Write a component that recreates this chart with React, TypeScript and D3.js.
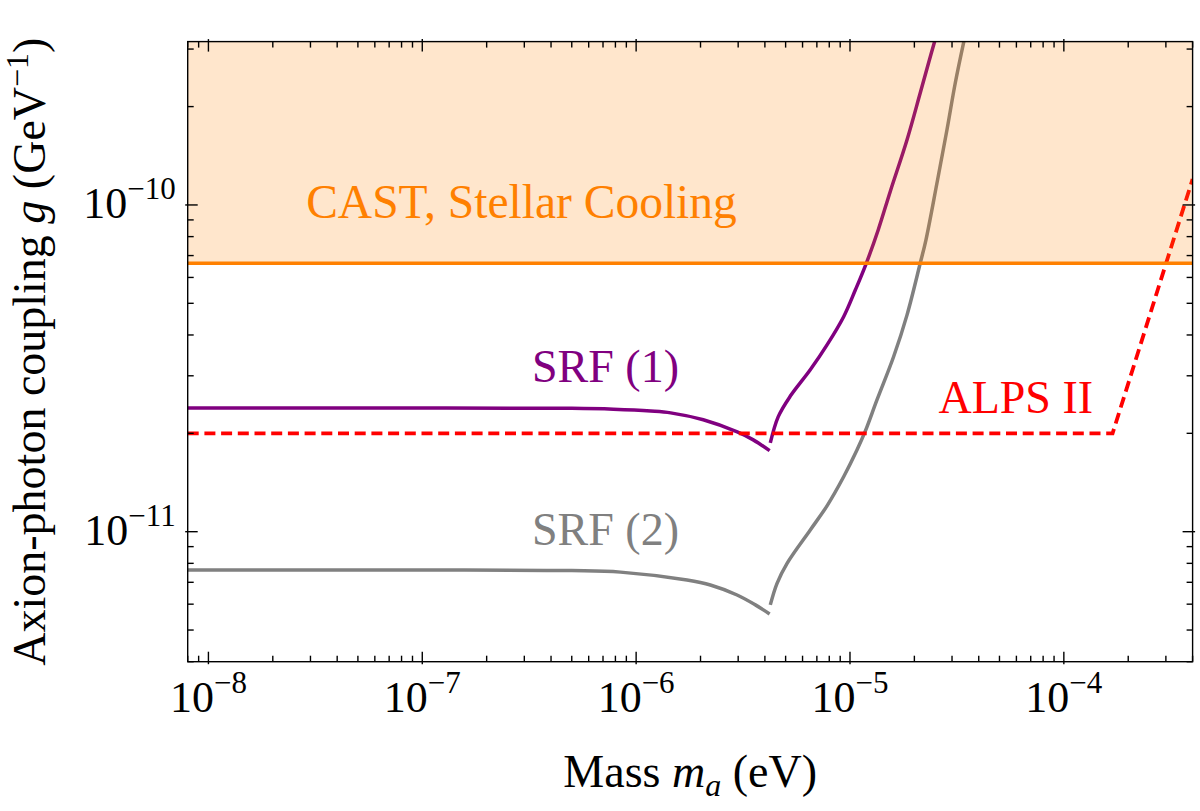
import { useEffect, useRef } from "react";
import * as d3 from "d3";

// axis extents (eV, GeV^-1)
const massDomain = [8e-9, 4e-4];
const couplingDomain = [4e-12, 3.162e-10];

const massTickValues = [1e-8, 1e-7, 1e-6, 1e-5, 1e-4];
const massTickExponents = ["−8", "−7", "−6", "−5", "−4"];
const couplingTickValues = [1e-10, 1e-11];
const couplingTickExponents = ["−10", "−11"];

// CAST / stellar cooling bound
const castLimit = 6.63e-11;

// SRF (1): low-mass branch and high-mass branch
const srf1Low: [number, number][] = [
  [8e-9, 2.39e-11],
  [1e-7, 2.39e-11],
  [5e-7, 2.385e-11],
  [7.83e-7, 2.37e-11],
  [1.17e-6, 2.34e-11],
  [1.45e-6, 2.31e-11],
  [2.06e-6, 2.2e-11],
  [2.97e-6, 2.02e-11],
  [3.53e-6, 1.91e-11],
  [4.21e-6, 1.77e-11],
];
const srf1High: [number, number][] = [
  [4.24e-6, 1.87e-11],
  [4.62e-6, 2.25e-11],
  [5.26e-6, 2.6e-11],
  [6.52e-6, 3.13e-11],
  [7.81e-6, 3.73e-11],
  [9.34e-6, 4.55e-11],
  [1.059e-5, 5.49e-11],
  [1.192e-5, 6.63e-11],
  [1.356e-5, 8.4e-11],
  [1.543e-5, 1.1e-10],
  [1.847e-5, 1.58e-10],
  [2.13e-5, 2.2e-10],
  [2.33e-5, 2.72e-10],
  [2.5e-5, 3.2e-10],
];

// SRF (2)
const srf2Low: [number, number][] = [
  [8e-9, 7.63e-12],
  [1e-7, 7.63e-12],
  [5e-7, 7.6e-12],
  [8.45e-7, 7.52e-12],
  [1.73e-6, 7.11e-12],
  [2.224e-6, 6.87e-12],
  [2.965e-6, 6.4e-12],
  [3.61e-6, 5.97e-12],
  [4.21e-6, 5.6e-12],
];
const srf2High: [number, number][] = [
  [4.24e-6, 5.97e-12],
  [4.56e-6, 6.95e-12],
  [5.08e-6, 8.0e-12],
  [6.52e-6, 1.012e-11],
  [7.81e-6, 1.2e-11],
  [9.34e-6, 1.473e-11],
  [1.078e-5, 1.778e-11],
  [1.179e-5, 2.03e-11],
  [1.337e-5, 2.53e-11],
  [1.599e-5, 3.43e-11],
  [1.847e-5, 4.6e-11],
  [2.13e-5, 6.63e-11],
  [2.265e-5, 7.81e-11],
  [2.55e-5, 1.165e-10],
  [2.84e-5, 1.696e-10],
  [3.105e-5, 2.358e-10],
  [3.42e-5, 3.2e-10],
];

// ALPS II projected sensitivity
const alps: [number, number][] = [
  [8e-9, 2e-11],
  [1.69e-4, 2e-11],
  [4e-4, 1.2e-10],
];

const FONT = "'Liberation Serif', 'Times New Roman', serif";

const App = () => {
  const chartRef = useRef(null);

  useEffect(() => {
    if (!chartRef.current) return;
    const svg = d3.select(chartRef.current);
    svg.selectAll("*").remove();

    const width = 1200;
    const height = 811;
    const margin = { top: 41.6, right: 7.4, bottom: 149.3, left: 187.7 };
    const x0 = margin.left;
    const x1 = width - margin.right;
    const y0 = height - margin.bottom;
    const y1 = margin.top;

    const x = d3.scaleLog().domain(massDomain).range([x0, x1]);
    const y = d3.scaleLog().domain(couplingDomain).range([y0, y1]);

    svg.attr("viewBox", [0, 0, width, height] as any);

    svg
      .append("clipPath")
      .attr("id", "plotclip")
      .append("rect")
      .attr("x", x0)
      .attr("y", y1)
      .attr("width", x1 - x0)
      .attr("height", y0 - y1);

    const plot = svg.append("g").attr("clip-path", "url(#plotclip)");

    const smooth = d3
      .line<[number, number]>()
      .x((d) => x(d[0]))
      .y((d) => y(d[1]))
      .curve(d3.curveCatmullRom.alpha(0.5));
    const straight = d3
      .line<[number, number]>()
      .x((d) => x(d[0]))
      .y((d) => y(d[1]));

    const curves = [
      { data: srf1Low, color: "#800080" },
      { data: srf1High, color: "#800080" },
      { data: srf2Low, color: "#808080" },
      { data: srf2High, color: "#808080" },
    ];
    curves.forEach((c) => {
      plot
        .append("path")
        .attr("d", smooth(c.data))
        .attr("fill", "none")
        .attr("stroke", c.color)
        .attr("stroke-width", 3.5);
    });

    plot
      .append("path")
      .attr("d", straight(alps))
      .attr("fill", "none")
      .attr("stroke", "#ff0000")
      .attr("stroke-width", 3.8)
      .attr("stroke-dasharray", "11,5.7");

    // excluded region, drawn over the curves
    plot
      .append("rect")
      .attr("x", x0)
      .attr("y", y1)
      .attr("width", x1 - x0)
      .attr("height", y(castLimit) - y1)
      .attr("fill", "#ff8000")
      .attr("fill-opacity", 0.2);

    plot
      .append("line")
      .attr("x1", x0)
      .attr("x2", x1)
      .attr("y1", y(castLimit))
      .attr("y2", y(castLimit))
      .attr("stroke", "#ff8000")
      .attr("stroke-width", 3.4);

    // frame + ticks
    const axes = svg.append("g").attr("stroke", "#000").attr("stroke-width", 1.4);
    axes
      .append("rect")
      .attr("x", x0)
      .attr("y", y1)
      .attr("width", x1 - x0)
      .attr("height", y0 - y1)
      .attr("fill", "none");

    const isMajor = (v: number) => {
      const l = Math.log10(v);
      return Math.abs(l - Math.round(l)) < 1e-6;
    };

    x.ticks().forEach((v) => {
      const px = x(v);
      if (px < x0 - 0.5 || px > x1 + 0.5) return;
      const major = isMajor(v);
      const len = major ? 10 : 6;
      const out = major ? 2.5 : 0;
      axes.append("line").attr("x1", px).attr("x2", px).attr("y1", y0 + out).attr("y2", y0 - len);
      axes.append("line").attr("x1", px).attr("x2", px).attr("y1", y1 - out).attr("y2", y1 + len);
    });

    y.ticks().forEach((v) => {
      const py = y(v);
      if (py < y1 - 0.5 || py > y0 + 0.5) return;
      const major = isMajor(v);
      const len = major ? 10 : 6;
      const out = major ? 2.5 : 0;
      axes.append("line").attr("y1", py).attr("y2", py).attr("x1", x0 - out).attr("x2", x0 + len);
      axes.append("line").attr("y1", py).attr("y2", py).attr("x1", x1 + out).attr("x2", x1 - len);
    });

    const txt = svg.append("g").attr("font-family", FONT);

    massTickValues.forEach((v, i) => {
      const t = txt
        .append("text")
        .attr("x", x(v))
        .attr("y", y0 + 50)
        .attr("text-anchor", "middle")
        .attr("font-size", 44)
        .text("10");
      t.append("tspan").attr("dy", -19).attr("font-size", 31).text(massTickExponents[i]);
    });

    couplingTickValues.forEach((v, i) => {
      const t = txt
        .append("text")
        .attr("x", x0 - 12)
        .attr("y", y(v) + 13)
        .attr("text-anchor", "end")
        .attr("font-size", 44)
        .text("10");
      t.append("tspan").attr("dy", -19).attr("font-size", 31).text(couplingTickExponents[i]);
    });

    // axis titles
    const xt = txt
      .append("text")
      .attr("x", (x0 + x1) / 2)
      .attr("y", 787)
      .attr("text-anchor", "middle")
      .attr("font-size", 46)
      .text("Mass ");
    xt.append("tspan").attr("font-style", "italic").text("m");
    xt.append("tspan").attr("font-style", "italic").attr("font-size", 32).attr("dy", 9).text("a");
    xt.append("tspan").attr("dy", -9).text(" (eV)");

    const yt = txt
      .append("text")
      .attr("transform", `translate(45,${(y0 + y1) / 2}) rotate(-90)`)
      .attr("text-anchor", "middle")
      .attr("font-size", 46)
      .text("Axion-photon coupling ");
    yt.append("tspan").attr("font-style", "italic").text("g");
    yt.append("tspan").text(" (GeV");
    yt.append("tspan").attr("font-size", 32).attr("dy", -17).text("−1");
    yt.append("tspan").attr("dy", 17).text(")");

    // curve labels
    const labels = [
      { text: "CAST, Stellar Cooling", m: 2.91e-7, g: 9.12e-11, color: "#ff8000", anchor: "middle", size: 47.5 },
      { text: "SRF (1)", m: 7.19e-7, g: 2.88e-11, color: "#800080", anchor: "middle", size: 46 },
      { text: "SRF (2)", m: 7.19e-7, g: 9.1e-12, color: "#808080", anchor: "middle", size: 46 },
      { text: "ALPS II", m: 1.37e-4, g: 2.3e-11, color: "#ff0000", anchor: "end", size: 46 },
    ];
    labels.forEach((l) => {
      txt
        .append("text")
        .attr("x", x(l.m))
        .attr("y", y(l.g))
        .attr("text-anchor", l.anchor)
        .attr("font-size", l.size)
        .attr("fill", l.color)
        .text(l.text);
    });
  }, []);

  return (
    <svg
      ref={chartRef}
      width={1200}
      height={811}
      style={{ position: "absolute", left: 0, top: 0, background: "#fff" }}
    ></svg>
  );
};

export default App;
